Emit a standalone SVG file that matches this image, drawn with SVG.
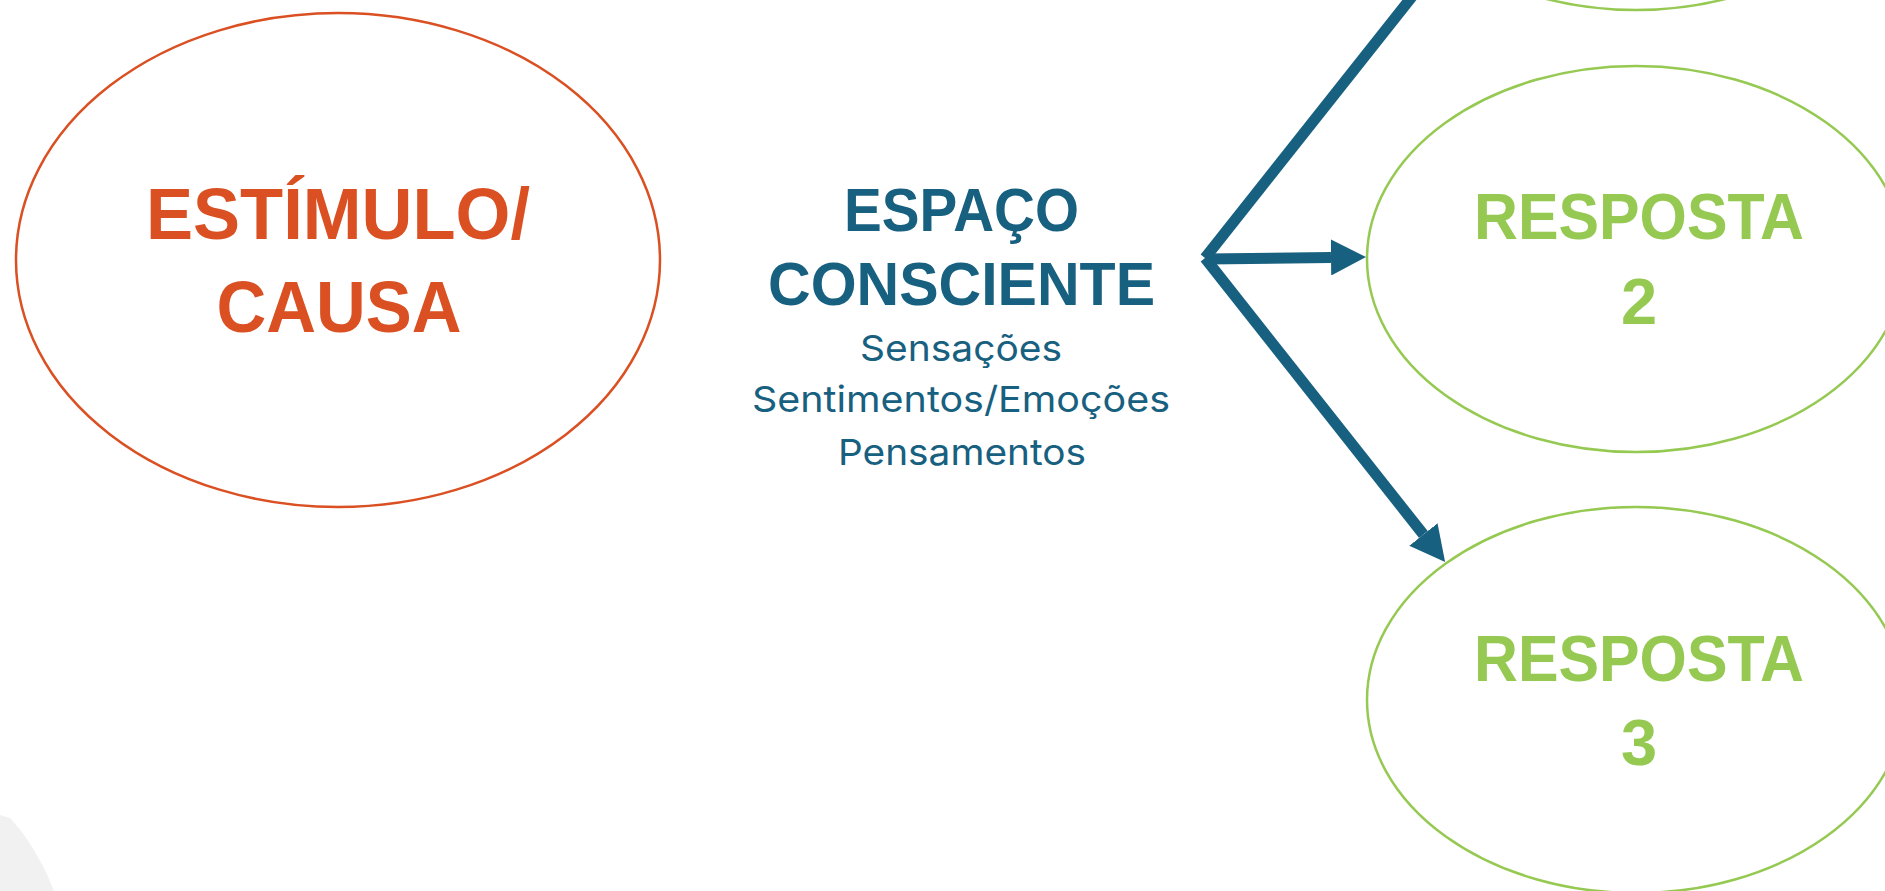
<svg xmlns="http://www.w3.org/2000/svg" width="1885" height="891" viewBox="0 0 1885 891">
<style>
.bg{fill:#ffffff}
.stim{fill:none;stroke:#DA5022;stroke-width:2.5}
.resp{fill:none;stroke:#95C952;stroke-width:2.5}
.tStim{font-family:"Liberation Sans",Arial,sans-serif;font-weight:bold;font-size:72px;fill:#DA5022;text-anchor:middle}
.tResp{font-family:"Liberation Sans",Arial,sans-serif;font-weight:bold;font-size:65px;fill:#95C952;text-anchor:middle}
.tHead{font-family:"Liberation Sans",Arial,sans-serif;font-weight:bold;font-size:62px;fill:#18607F;text-anchor:middle}
.tSub{font-family:Inter,"Liberation Sans",sans-serif;font-size:36px;fill:#18607F;text-anchor:middle}
.conn{stroke:#18607F;stroke-width:11;fill:none;stroke-linecap:butt}
</style>
<defs>
<marker id="ah" viewBox="0 0 35 36" refX="0" refY="18" markerWidth="35" markerHeight="36" markerUnits="userSpaceOnUse" orient="auto">
<path d="M0,0 L35,18 L0,36 Z" fill="#18607F"/>
</marker>
</defs>
<rect class="bg" x="0" y="0" width="1885" height="891"/>
<polygon points="0,815 10,818 22,832 34,850 46,872 54,891 0,891" fill="#f1f1f1"/>

<g id="estimulo">
<ellipse class="stim" cx="338" cy="260" rx="322" ry="247"/>
<text class="tStim" x="338" y="239" textLength="384" lengthAdjust="spacingAndGlyphs">ESTÍMULO/</text>
<text class="tStim" x="339" y="332" textLength="245" lengthAdjust="spacingAndGlyphs">CAUSA</text>
</g>

<g id="espaco">
<text class="tHead" x="961.5" y="231" textLength="235" lengthAdjust="spacingAndGlyphs">ESPAÇO</text>
<text class="tHead" x="961.5" y="305" textLength="387" lengthAdjust="spacingAndGlyphs">CONSCIENTE</text>
<text class="tSub" x="961" y="361" textLength="202" lengthAdjust="spacingAndGlyphs">Sensações</text>
<text class="tSub" x="961" y="412" textLength="418" lengthAdjust="spacingAndGlyphs">Sentimentos/Emoções</text>
<text class="tSub" x="962" y="465" textLength="248" lengthAdjust="spacingAndGlyphs">Pensamentos</text>
</g>

<g id="resposta1">
<ellipse class="resp" cx="1636" cy="-183" rx="269" ry="193"/>
</g>

<g id="resposta2">
<ellipse class="resp" cx="1636" cy="259" rx="269" ry="193"/>
<text class="tResp" x="1639" y="239" textLength="330" lengthAdjust="spacingAndGlyphs">RESPOSTA</text>
<text class="tResp" x="1639" y="324">2</text>
</g>

<g id="resposta3">
<ellipse class="resp" cx="1636" cy="700" rx="269" ry="193"/>
<text class="tResp" x="1639" y="681" textLength="330" lengthAdjust="spacingAndGlyphs">RESPOSTA</text>
<text class="tResp" x="1639" y="765">3</text>
</g>

<g id="connectors">
<line class="conn" x1="1205" y1="258" x2="1423.3" y2="-17.6" marker-end="url(#ah)"/>
<line class="conn" x1="1207" y1="259" x2="1331" y2="257.5" marker-end="url(#ah)"/>
<line class="conn" x1="1205" y1="258" x2="1423.4" y2="534.5" marker-end="url(#ah)"/>
</g>
</svg>
